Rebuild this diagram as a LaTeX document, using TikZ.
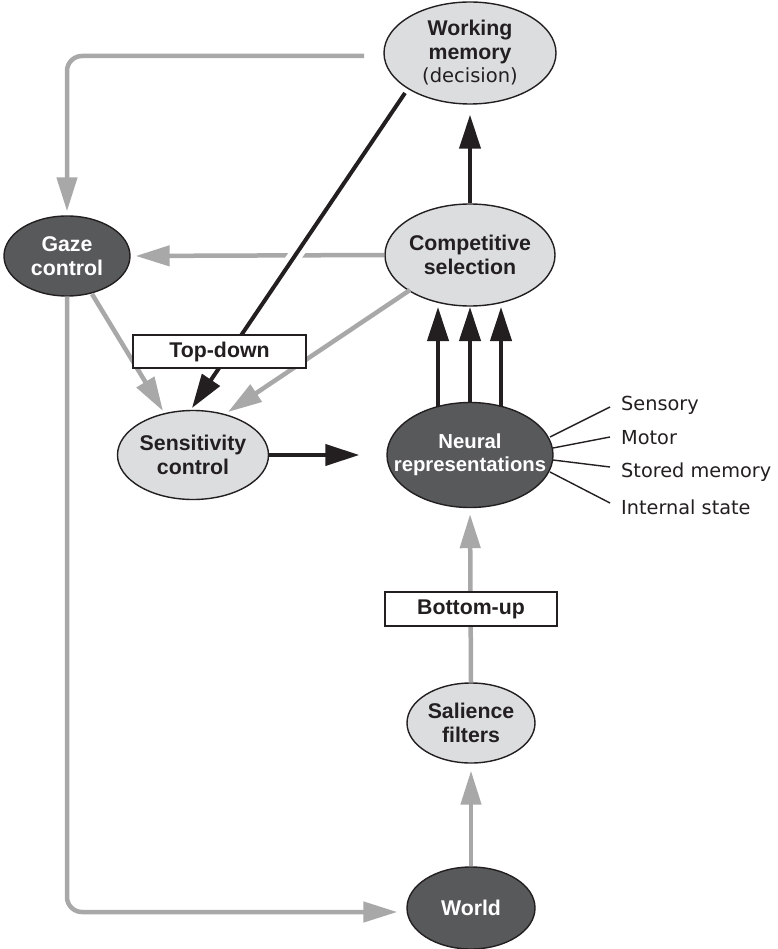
\documentclass[tikz,border=0pt]{standalone}
\usepackage{fontspec}
\setmainfont{Liberation Sans}
\newfontfamily\plainfont{DejaVu Sans}
\usetikzlibrary{arrows.meta,calc,shapes.geometric}

\definecolor{lightfill}{HTML}{DCDDDF}
\definecolor{darkfill}{HTML}{58595B}
\definecolor{linegray}{HTML}{A8A8A8}
\definecolor{ink}{HTML}{231F20}

\begin{document}
\begin{tikzpicture}[x=1pt,y=-1pt,
  oval/.style={ellipse, draw=ink, line width=1.4pt, inner xsep=-40pt, inner ysep=-30pt,
    align=center, font=\bfseries\fontsize{21.3}{23.5}\selectfont},
  lightoval/.style={oval, fill=lightfill, text=ink},
  darkoval/.style={oval, fill=darkfill, text=white},
  tag/.style={draw=ink, fill=white, line width=1.5pt, minimum width=173pt, minimum height=33pt,
    inner sep=0pt, font=\bfseries\fontsize{21.3}{24}\selectfont, text=ink},
  blackarrow/.style={draw=ink, line width=4pt, -{Triangle[length=34pt,width=21pt]}},
  grayarrow/.style={draw=linegray, line width=4.5pt, -{Triangle[length=34pt,width=20pt]}},
  source/.style={anchor=west, inner sep=2pt, text=ink, font=\plainfont\fontsize{19.3}{22}\selectfont},
  feed/.style={draw=ink, line width=1.4pt}
]
\fill[white] (0,0) rectangle (777,949);
\useasboundingbox (0,0) rectangle (777,949);

% processing stages
\node[lightoval, minimum width=172pt, minimum height=102pt] (wm) at (470,53)
  {Working\\memory\\{\plainfont\mdseries\fontsize{19.5}{23.5}\selectfont (decision)}};
\node[lightoval, minimum width=170pt, minimum height=102pt] (cs) at (470,255) {Competitive\\selection};
\node[darkoval, minimum width=126pt, minimum height=80pt] (gaze) at (67,256) {Gaze\\control};
\node[lightoval, minimum width=151pt, minimum height=89pt] (sens) at (193,455) {Sensitivity\\control};
\node[darkoval, minimum width=166pt, minimum height=105pt,
  font=\bfseries\fontsize{20.3}{23}\selectfont] (neural) at (470,455) {Neural\\representations};
\node[lightoval, minimum width=128pt, minimum height=80pt] (sal) at (471,723) {Salience\\filters};
\node[darkoval, minimum width=128pt, minimum height=82pt] (world) at (471,908) {World};

% representation sources
\node[source] (sensory) at (619,405) {Sensory};
\node[source] (motor) at (619,438) {Motor};
\node[source] (stored) at (619,472) {Stored memory};
\node[source] (internal) at (619,507) {Internal state};
\draw[feed] ($(neural.center)+(80,-18)$) -- ($(sensory.west)+(-9,2)$);
\draw[feed] ($(neural.center)+(83,-7)$) -- ($(motor.west)+(-9,-1)$);
\draw[feed] ($(neural.center)+(83,5)$) -- ($(stored.west)+(-9,-5)$);
\draw[feed] ($(neural.center)+(80,17)$) -- ($(internal.west)+(-9,-4)$);

% gray (gaze / bottom-up) pathways
\coordinate (wmfeed) at (364,56);
\draw[grayarrow, rounded corners=15pt, shorten >=4pt] (wmfeed) -| (gaze.north);
\draw[grayarrow, shorten >=5pt] (cs.west) -- (gaze.east);
\draw[grayarrow] ($(gaze.center)+(25,38)$) -- ($(sens.center)+(-30,-44)$);
\draw[grayarrow] ($(cs.center)+(-60,35)$) -- ($(sens.center)+(35,-43)$);
\draw[grayarrow, rounded corners=15pt, shorten >=9pt] (gaze.south) |- ($(world.west)+(0,4)$);
\draw[grayarrow, shorten >=7pt] (world.north) -- (sal.south);
\draw[grayarrow, shorten >=6pt] (sal.north) -- (neural.south);

% black (top-down / selection) pathways
\draw[blackarrow, preaction={draw=white, line width=14pt, -, shorten <=60pt, shorten >=100pt}]
  ($(wm.center)+(-65,40)$) -- ($(sens.center)+(-1,-47)$);
\draw[blackarrow, shorten >=10pt] (cs.north) -- (wm.south);
\foreach \dx/\dy in {-32/-48, 0/-52, 31/-48}
  \draw[blackarrow] ($(neural.center)+(\dx,\dy)$) -- ($(cs.center)+(\dx,52)$);
\draw[blackarrow, shorten >=27pt] (sens.east) -- (neural.west);

% pathway labels
\node[tag] (topdown) at (219.5,351.5) {Top-down};
\node[tag, minimum width=172pt, minimum height=34pt] (bottomup) at (471,609) {Bottom-up};
\end{tikzpicture}
\end{document}
